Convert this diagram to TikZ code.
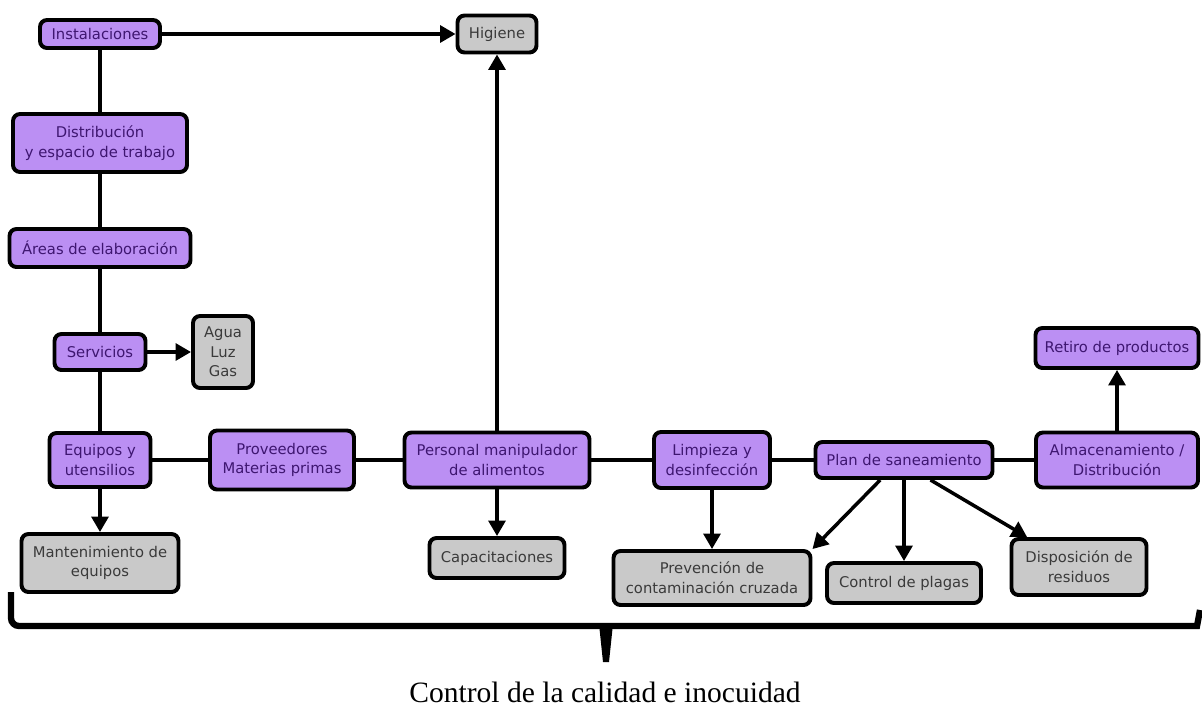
\documentclass[tikz,border=0pt]{standalone}
\usepackage{fontspec}
\newfontfamily\boxfont{DejaVu Sans}
\newfontfamily\titlefont{Liberation Serif}
\usetikzlibrary{arrows.meta}
\definecolor{lila}{RGB}{187,143,243}
\definecolor{lilatext}{RGB}{62,22,112}
\definecolor{gris}{RGB}{201,201,201}
\definecolor{gristext}{RGB}{58,58,58}
\tikzset{
  tema/.style={draw=black, line width=2.8pt, rounded corners=5pt, fill=lila,
    text=lilatext, align=center, inner sep=1pt,
    font=\boxfont\fontsize{10.5}{14}\selectfont},
  detalle/.style={tema, fill=gris, text=gristext},
  tam/.style 2 args={minimum width=#1*0.025cm, minimum height=#2*0.025cm},
  enlace/.style={line width=2.5pt},
  flecha/.style={line width=2.5pt, -{Triangle[length=11pt,width=12pt]}}
}
\begin{document}
\begin{tikzpicture}[x=0.025cm, y=-0.025cm]
    \useasboundingbox (0,0) rectangle (1202,723);

    % columna izquierda
    \node[tema, tam={120}{28}] (inst) at (100,34) {Instalaciones};
    \node[tema, tam={174}{58}] (dist) at (100,143) {Distribución\\y espacio de trabajo};
    \node[tema, tam={181}{38}] (areas) at (100,248) {Áreas de elaboración};
    \node[tema, tam={91}{36}] (serv) at (100,352) {Servicios};
    \node[tema, tam={101}{54}] (equip) at (100,460) {Equipos y\\utensilios};
    \node[detalle, tam={60}{72}] (agua) at (223,352) {Agua\\Luz\\Gas};
    \node[detalle, tam={157}{58}] (mant) at (100,563) {Mantenimiento de\\equipos};

    % fila central
    \node[tema, tam={144}{59}] (prov) at (282,460) {Proveedores\\Materias primas};
    \node[tema, tam={185}{55}] (pers) at (497,460) {Personal manipulador\\de alimentos};
    \node[tema, tam={116}{56}] (limp) at (712,460) {Limpieza y\\desinfección};
    \node[tema, tam={177}{36}] (plan) at (904,460) {Plan de saneamiento};
    \node[tema, tam={162}{55}] (alm) at (1117,460) {Almacenamiento /\\Distribución};

    % destinos
    \node[detalle, tam={79}{37}] (hig) at (497,34) {Higiene};
    \node[detalle, tam={135}{40}] (capa) at (497,558) {Capacitaciones};
    \node[detalle, tam={197}{54}] (prev) at (712,578) {Prevención de\\contaminación cruzada};
    \node[detalle, tam={154}{40}] (plag) at (904,583) {Control de plagas};
    \node[detalle, tam={135}{56}] (disp) at (1079,567) {Disposición de\\residuos};
    \node[tema, tam={163}{40}] (ret) at (1117,348) {Retiro de productos};

    % lineas
    \draw[enlace] (inst) -- (dist) -- (areas) -- (serv) -- (equip);
    \draw[enlace] (equip) -- (prov) -- (pers) -- (limp) -- (plan) -- (alm);

    % flechas
    \draw[flecha] (inst) -- (hig);
    \draw[flecha] (pers) -- (hig);
    \draw[flecha] (serv) -- (agua);
    \draw[flecha] (equip) -- (mant);
    \draw[flecha] (pers) -- (capa);
    \draw[flecha] (limp) -- (prev);
    \draw[flecha] (plan.-140) -- (prev.north east);
    \draw[flecha] (plan) -- (plag);
    \draw[flecha] (plan.-37) -- (disp.150);
    \draw[flecha] (alm) -- (ret);

    % llave
    \draw[line width=4.5pt] (11,592) -- (11,618) to[out=-90,in=180] (19,626) -- (1197,626) -- (1200,610);
    \fill (599,624) -- (613,624) -- (609,662) -- (603,662) -- cycle;
    \node[font=\titlefont\fontsize{21}{25}\selectfont] (titulo) at (605,692) {Control de la calidad e inocuidad};
\end{tikzpicture}
\end{document}
